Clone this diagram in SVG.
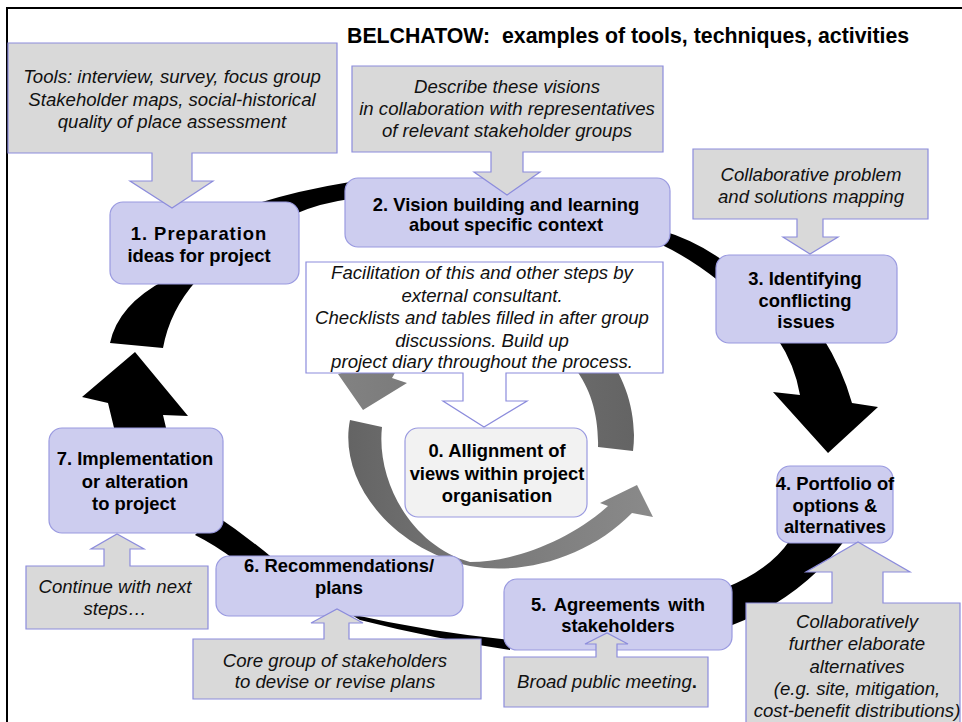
<svg xmlns="http://www.w3.org/2000/svg" width="962" height="722" viewBox="0 0 962 722">
<defs>
<style>
.node{fill:#cdcdef;stroke:#9a9ae0;stroke-width:1.2}
.node0{fill:#f2f2f2;stroke:#9a9ae0;stroke-width:1.2}
.call{fill:#d9d9d9;stroke:#8c8cdc;stroke-width:1.2}
.callw{fill:#ffffff;stroke:#8c8cdc;stroke-width:1.2}
.nt{font-family:"Liberation Sans",Arial,sans-serif;font-size:18.4px;font-weight:bold;fill:#000;text-anchor:middle}
.ct{font-family:"Liberation Sans",Arial,sans-serif;font-size:18.6px;font-style:italic;fill:#111;text-anchor:middle}
.ring{fill:#000}
</style>
<linearGradient id="gUp" x1="0" y1="0" x2="1" y2="0">
<stop offset="0" stop-color="#828282"/>
<stop offset="1" stop-color="#646464"/>
</linearGradient>
<linearGradient id="gLow" x1="0" y1="0" x2="1" y2="0">
<stop offset="0" stop-color="#646464"/>
<stop offset="0.5" stop-color="#7a7a7a"/>
<stop offset="1" stop-color="#8a8a8a"/>
</linearGradient>
</defs>
<rect x="0" y="0" width="962" height="722" fill="#ffffff"/>
<rect x="7" y="8" width="1000" height="1000" fill="none" stroke="#000" stroke-width="2"/>
<text x="347" y="43" xml:space="preserve" style="font-family:'Liberation Sans',Arial,sans-serif;font-size:21.3px;font-weight:bold;white-space:pre" fill="#000">BELCHATOW:  examples of tools, techniques, activities</text>

<g id="connectors">
<path class="ring" d="M 255 204 Q 300 190 350 182 L 350 199 Q 320 203 295 214 Z"/>
<path class="ring" d="M 660 230 Q 695 240 725 262 L 720 282 Q 690 258 660 244 Z"/>
<path class="ring" d="M 777 338 Q 795 365 800 395 L 773 392 L 828 453 L 878 407 L 852 403 Q 842 368 823 338 Z"/>
<path class="ring" d="M 790 540 Q 770 570 725 588 L 725 628 Q 800 600 845 540 Z"/>
<path class="ring" d="M 350 614 Q 430 632 510 640 L 510 650 Q 430 638 360 620 Z"/>
<path class="ring" d="M 215 515 Q 245 535 275 560 L 235 560 Q 215 545 195 535 Z"/>
<path class="ring" d="M 115 432 L 108 403 L 82 397 L 135 352 L 188 416 L 163 415 L 167 432 Z"/>
<path class="ring" d="M 110 343 Q 118 305 165 280 L 197 280 Q 170 310 163 348 Z"/>
<path fill="url(#gUp)" d="M 598 447 L 633 451 C 642 380 590 300 490 300 C 420 300 365 330 345 372 L 338 374 L 363 410 L 407 383 L 392 378 C 410 345 450 330 490 330 C 560 330 600 380 598 447 Z"/>
<path fill="url(#gLow)" d="M 350 420 C 338 480 390 548 470 566 C 525 576 590 556 632 513 L 653 517 L 637 485 L 600 503 L 608 506 C 570 540 515 562 470 562 C 412 546 376 482 382 427 Z"/>
</g>

<g id="node1"><rect class="node" x="110" y="202" width="189" height="82" rx="13"/>
<text class="nt" x="199" y="240" letter-spacing="1">1. Preparation</text><text class="nt" x="199" y="262">ideas for project</text></g>
<g id="node2"><rect class="node" x="345" y="178" width="325" height="69" rx="13"/>
<text class="nt" x="506" y="211">2. Vision building and learning</text><text class="nt" x="506" y="231">about specific context</text></g>
<g id="node3"><rect class="node" x="716" y="255" width="181" height="88" rx="13"/>
<text class="nt" x="805" y="285">3. Identifying</text><text class="nt" x="805" y="307">conflicting</text><text class="nt" x="806" y="328">issues</text></g>
<g id="node4"><rect class="node" x="777" y="466" width="116" height="77" rx="13"/>
<text class="nt" x="835" y="490">4. Portfolio of</text><text class="nt" x="835" y="512">options &amp;</text><text class="nt" x="835" y="533">alternatives</text></g>
<g id="node5"><rect class="node" x="504" y="579" width="228" height="71" rx="13"/>
<text class="nt" x="618" y="611" word-spacing="3">5. Agreements with</text><text class="nt" x="618" y="632">stakeholders</text></g>
<g id="node6"><rect class="node" x="216" y="556" width="247" height="60" rx="13"/>
<text class="nt" x="339" y="572">6. Recommendations/</text><text class="nt" x="339" y="594">plans</text></g>
<g id="node7"><rect class="node" x="49" y="428" width="174" height="105" rx="13"/>
<text class="nt" x="135" y="465">7. Implementation</text><text class="nt" x="135" y="488">or alteration</text><text class="nt" x="134" y="510">to project</text></g>
<g id="node0"><rect class="node0" x="405" y="428" width="182" height="89" rx="13"/>
<text class="nt" x="497" y="457">0. Allignment of</text><text class="nt" x="497" y="480">views within project</text><text class="nt" x="497" y="502">organisation</text></g>

<g id="callout1"><path class="call" d="M 8 43 H 337 V 153 H 192 V 181 H 213 L 172 208 L 130 181 H 152 V 153 H 8 Z"/>
<text class="ct" x="172" y="83">Tools: interview, survey, focus group</text>
<text class="ct" x="172" y="105.5">Stakeholder maps, social-historical</text>
<text class="ct" x="172" y="128">quality of place assessment</text></g>
<g id="callout2"><path class="call" d="M 352 66 H 663 V 152 H 523 V 172 H 540 L 507 195 L 474 172 H 491 V 152 H 352 Z"/>
<text class="ct" x="507" y="93">Describe these visions</text>
<text class="ct" x="507" y="115">in collaboration with representatives</text>
<text class="ct" x="507" y="137">of relevant stakeholder groups</text></g>
<g id="callout3"><path class="call" d="M 693 149 H 928 V 219 H 823 V 237 H 838 L 810 254 L 783 237 H 797 V 219 H 693 Z"/>
<text class="ct" x="811" y="181">Collaborative problem</text>
<text class="ct" x="811" y="203">and solutions mapping</text></g>
<g id="callout0"><path class="callw" d="M 306 262 H 663 V 373 H 506 V 401 H 527 L 484 427 L 443 401 H 463 V 373 H 306 Z"/>
<text class="ct" x="482" y="279">Facilitation of this and other steps by</text>
<text class="ct" x="482" y="302">external consultant.</text>
<text class="ct" x="482" y="324">Checklists and tables filled in after group</text>
<text class="ct" x="482" y="347">discussions. Build up</text>
<text class="ct" x="482" y="368">project diary throughout the process.</text></g>
<g id="callout4"><path class="call" d="M 746 603 H 832 V 572 H 806 L 858 542 L 910 572 H 883 V 603 H 960 V 730 H 746 Z"/>
<text class="ct" x="857" y="628">Collaboratively</text>
<text class="ct" x="857" y="650">further elaborate</text>
<text class="ct" x="857" y="673">alternatives</text>
<text class="ct" x="857" y="695">(e.g. site, mitigation,</text>
<text class="ct" x="857" y="717">cost-benefit distributions)</text></g>
<g id="callout5"><path class="call" d="M 504 657 H 596 V 644 H 585 L 607 633 L 628 644 H 617 V 657 H 708 V 707 H 504 Z"/>
<text class="ct" x="607" y="688">Broad public meeting<tspan font-weight="bold" font-style="normal">.</tspan></text></g>
<g id="callout6"><path class="call" d="M 193 639 H 324 V 623 H 311 L 337 609 L 363 623 H 349 V 639 H 481 V 699 H 193 Z"/>
<text class="ct" x="335" y="667">Core group of stakeholders</text>
<text class="ct" x="335" y="688">to devise or revise plans</text></g>
<g id="callout7"><path class="call" d="M 26 566 H 104 V 549 H 91 L 117 534 L 144 549 H 130 V 566 H 208 V 629 H 26 Z"/>
<text class="ct" x="115" y="593">Continue with next</text>
<text class="ct" x="115" y="615">steps…</text></g>
</svg>
